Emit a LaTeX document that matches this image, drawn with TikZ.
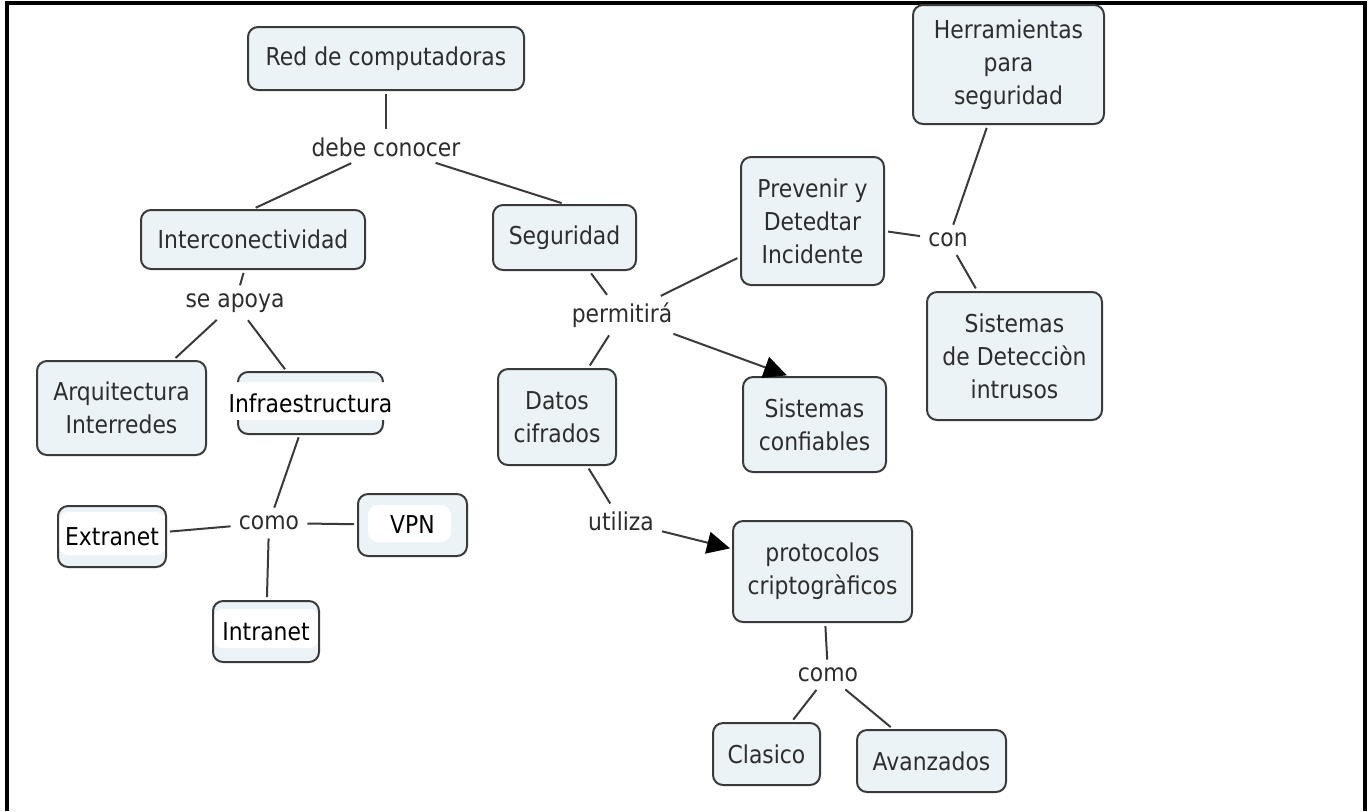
\documentclass[tikz,border=0pt]{standalone}
\usepackage{fontspec}
\setmainfont[FakeStretch=0.89]{DejaVu Sans}
\usetikzlibrary{arrows.meta,calc}
\definecolor{ConceptClr}{RGB}{236,243,246}
\definecolor{EdgeClr}{RGB}{58,58,58}
\definecolor{WordClr}{RGB}{45,45,45}

\begin{document}
\begin{tikzpicture}[x=0.5pt,y=-0.5pt,
  font=\fontsize{12.3}{16.5}\selectfont,
  concept/.style={draw=EdgeClr,fill=ConceptClr,line width=1pt,rounded corners=5pt,
    align=center,text=WordClr,inner sep=0pt},
  linkword/.style={text=WordClr,inner sep=2.5pt},
  band/.style n args={4}{text=black,path picture={\fill[white]
    ($(path picture bounding box.north west)+(#1,-#2)$) rectangle
    ($(path picture bounding box.south east)+(-#3,#4)$);}},
  link/.style={draw=EdgeClr,line width=1pt,shorten <=1.5pt,shorten >=1.5pt},
  arrowlink/.style={link,-{Triangle[length=11.5pt,width=11pt,color=black]},shorten >=1pt}]

\useasboundingbox (0,0) rectangle (1368,811);
\draw[line width=1.8pt] (7,811) -- (7,3) -- (1365,3) -- (1365,811);

\node[concept,minimum width=138pt,minimum height=31.5pt] (red) at (386,58.5) {Red de computadoras};
\node[linkword] (dc) at (386,147) {debe conocer};
\node[concept,minimum width=112pt,minimum height=29.5pt] (inter) at (253,239.5) {Interconectividad};
\node[concept,minimum width=71.5pt,minimum height=32.5pt] (seg) at (564.5,237.5) {Seguridad};
\node[linkword] (sa) at (235,303) {se apoya};
\node[concept,minimum width=84.5pt,minimum height=47pt] (arq) at (121.5,408) {Arquitectura\\Interredes};

\begin{scope}
\clip (228,362) rectangle (395,382) (228,420) rectangle (395,444);
\filldraw[draw=EdgeClr,fill=ConceptClr,line width=1pt,rounded corners=5pt] (238,372) rectangle (383,434);
\end{scope}
\node[text=black,minimum height=31pt,inner sep=0pt] (infra) at (310.5,403) {Infraestructura};

\node[linkword] (perm) at (622,315) {permitirá};
\node[concept,minimum width=59pt,minimum height=48pt] (datos) at (557,417) {Datos\\cifrados};
\node[concept,minimum width=71.5pt,minimum height=47.5pt] (sconf) at (814.5,424.5) {Sistemas\\confiables};
\node[concept,minimum width=71.5pt,minimum height=64pt] (prev) at (812.5,221) {Prevenir y\\Detedtar\\Incidente};
\node[linkword] (con) at (948,240) {con};
\node[concept,minimum width=95.5pt,minimum height=59.5pt] (herr) at (1008.5,64.5) {Herramientas\\para\\seguridad};
\node[concept,minimum width=87.5pt,minimum height=64pt] (sdet) at (1014.5,356) {Sistemas\\de Detecciòn\\intrusos};

\node[linkword] (comoA) at (269,523) {como};
\node[concept,band={0pt}{3pt}{0pt}{6pt},minimum width=54pt,minimum height=30.5pt] (extr) at (112,536.5) {Extranet};
\node[concept,band={5pt}{5.5pt}{8pt}{7pt},minimum width=54.5pt,minimum height=31pt] (vpn) at (412.5,525) {VPN};
\node[concept,band={0pt}{4pt}{0pt}{7pt},minimum width=53pt,minimum height=30.5pt] (intr) at (266,631.5) {Intranet};

\node[linkword] (util) at (621,521) {utiliza};
\node[concept,minimum width=89.5pt,minimum height=50.5pt] (prot) at (822.5,571.5) {protocolos\\criptogràficos};
\node[linkword] (comoB) at (828,675) {como};
\node[concept,minimum width=53.5pt,minimum height=31pt] (clas) at (766.5,754) {Clasico};
\node[concept,minimum width=74.5pt,minimum height=31pt] (avan) at (931.5,761) {Avanzados};

\draw[link] (red) -- (dc);
\draw[link] (dc) -- (inter.north);
\draw[link] (dc) -- (seg.north);
\draw[link] (inter) -- (sa);
\draw[link] (sa) -- (arq);
\draw[link] (sa) -- (infra);
\draw[link] (seg) -- (perm);
\draw[link] (perm) -- (prev);
\draw[arrowlink] (perm) -- (sconf.118);
\draw[link] (perm) -- (datos);
\draw[link] (prev) -- (con);
\draw[link] (con) -- (herr);
\draw[link] (con) -- (sdet);
\draw[link] (infra) -- (comoA);
\draw[link] (comoA) -- (extr);
\draw[link] (comoA) -- (vpn);
\draw[link] (comoA) -- (intr);
\draw[link] (datos) -- (util);
\draw[arrowlink] (util) -- (prot);
\draw[link] (prot) -- (comoB);
\draw[link] (comoB) -- (clas);
\draw[link] (comoB) -- (avan);

\end{tikzpicture}
\end{document}
